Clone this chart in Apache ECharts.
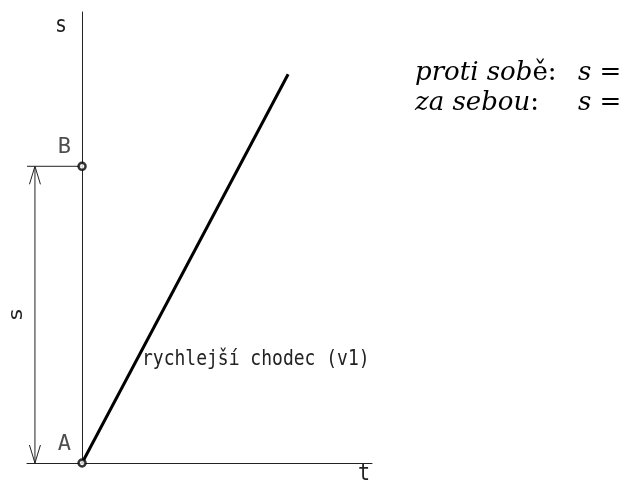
<!DOCTYPE html>
<html>
<head>
<meta charset="utf-8">
<script src="https://cdn.jsdelivr.net/npm/echarts@6/dist/echarts.min.js"></script>
<style>
html, body { margin: 0; padding: 0; background: #fff; }
#chart { width: 634px; height: 484px; }
</style>
</head>
<body>
<div id="chart"></div>
<script>
// osa t (cas) a osa s (draha), A = start, B = ve vzdalenosti s
var tRange = [-1.87, 9.85];
var sRange = [0, 15.2];
var points = [
    { name: 'A', value: [0, 0] },
    { name: 'B', value: [0, 10] }
];
var walker = [[0, 0], [7, 13.1]];
var extension = [[-1.87, 10], [0, 10]];
var dimension = [[-1.6, 0, 10]];
var walkerName = 'rychlejší chodec (v1)';
var axisNames = ['t', 's'];
var dimName = 's';

var isoFont = 'DejaVu Sans Mono';
var ink = '#222';
var mathRich = {
    i: { fontFamily: 'DejaVu Serif', fontStyle: 'italic', fontSize: 26, lineHeight: 30, fill: '#000' },
    n: { fontFamily: 'DejaVu Serif', fontSize: 26, lineHeight: 30, fill: '#000' }
};

var myChart = echarts.init(document.getElementById('chart'));
option = {
    animation: false,
    backgroundColor: '#fff',
    grid: {
        left: 27,
        right: 262,
        top: 12,
        bottom: 21
    },
    xAxis: {
        type: 'value',
        min: tRange[0],
        max: tRange[1],
        axisLine: { show: true, onZero: true, lineStyle: { color: ink, width: 1 } },
        axisTick: { show: false },
        axisLabel: { show: false },
        splitLine: { show: false }
    },
    yAxis: {
        type: 'value',
        min: sRange[0],
        max: sRange[1],
        axisLine: { show: true, onZero: true, lineStyle: { color: ink, width: 1 } },
        axisTick: { show: false },
        axisLabel: { show: false },
        splitLine: { show: false }
    },
    series: [
        {
            name: 'prodlouzeni',
            type: 'line',
            data: extension,
            symbol: 'none',
            lineStyle: { color: ink, width: 1 },
            silent: true
        },
        {
            name: 'kota',
            type: 'custom',
            data: dimension,
            encode: { x: 0, y: [1, 2] },
            silent: true,
            renderItem: function (params, api) {
                var p0 = api.coord([api.value(0), api.value(1)]);
                var p1 = api.coord([api.value(0), api.value(2)]);
                var h = 18, w = 5.5;
                var st = { stroke: ink, lineWidth: 1, fill: null };
                return {
                    type: 'group',
                    children: [
                        { type: 'line', shape: { x1: p0[0], y1: p0[1], x2: p1[0], y2: p1[1] }, style: st },
                        { type: 'polyline', shape: { points: [[p1[0] - w, p1[1] + h], [p1[0], p1[1]], [p1[0] + w, p1[1] + h]] }, style: st },
                        { type: 'polyline', shape: { points: [[p0[0] - w, p0[1] - h], [p0[0], p0[1]], [p0[0] + w, p0[1] - h]] }, style: st },
                        {
                            type: 'text',
                            x: p0[0] - 18,
                            y: (p0[1] + p1[1]) / 2,
                            rotation: Math.PI / 2,
                            scaleX: 1.15,
                            style: {
                                text: dimName,
                                font: '20px "' + isoFont + '"',
                                fill: ink,
                                align: 'center',
                                verticalAlign: 'middle'
                            }
                        }
                    ]
                };
            }
        },
        {
            name: walkerName,
            type: 'line',
            data: walker,
            symbol: 'none',
            lineStyle: { color: '#000', width: 3 },
            z: 3
        },
        {
            name: 'body',
            type: 'scatter',
            data: points,
            symbol: 'circle',
            symbolSize: 7,
            itemStyle: { color: '#fff', borderColor: '#000', borderWidth: 2.5 },
            label: {
                show: true,
                formatter: '{b}',
                position: [-13, -14],
                align: 'center',
                verticalAlign: 'middle',
                fontFamily: isoFont,
                fontSize: 22,
                color: ink
            },
            z: 5
        }
    ],
    graphic: [
        {
            type: 'text', left: 55, top: 15, scaleY: 1.15,
            style: { text: axisNames[1], font: '20px "' + isoFont + '"', fill: ink }
        },
        {
            type: 'text', left: 358, top: 463, scaleY: 1.15,
            style: { text: axisNames[0], font: '20px "' + isoFont + '"', fill: ink }
        },
        {
            type: 'text', left: 142, top: 349, scaleY: 1.18,
            style: { text: walkerName, font: '18px "' + isoFont + '"', fill: ink }
        },
        {
            type: 'text', left: 415, top: 60,
            style: { text: '{i|proti sob}{n|ě:}', rich: mathRich }
        },
        {
            type: 'text', left: 415, top: 90,
            style: { text: '{i|za sebou}{n|:}', rich: mathRich }
        },
        {
            type: 'text', left: 578, top: 60,
            style: { text: '{i|s}{n| =}\n{i|s}{n| =}', rich: mathRich }
        }
    ]
};
myChart.setOption(option);
</script>
</body>
</html>
